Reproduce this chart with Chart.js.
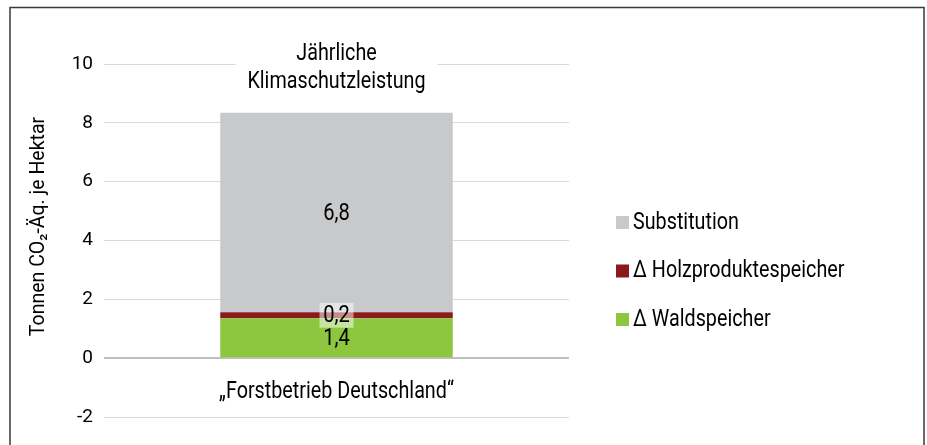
<!DOCTYPE html>
<html>
<head>
<meta charset="utf-8">
<script src="https://cdn.jsdelivr.net/npm/chart.js@4"></script>
<style>
  body { margin: 0; background: #fff; }
</style>
</head>
<body>
<canvas id="chart" width="927" height="445"></canvas>
<script>
const categories = ['\u201EForstbetrieb Deutschland\u201C'];
const waldspeicher = [1.36];
const holzprodukte = [0.2];
const substitution = [6.78];
const seriesNames = ['\u0394 Waldspeicher', '\u0394 Holzproduktespeicher', 'Substitution'];
const seriesColors = ['#8dc63f', '#8b1a1d', '#c8c9cb'];
const yTicks = [-2, 0, 2, 4, 6, 8, 10];
const titleLines = ['Jährliche', 'Klimaschutzleistung'];
const yTitle = 'Tonnen CO\u2082-Äq. je Hektar';

const fontFamily = 'Roboto, sans-serif';
const textFont = '23.5px ' + fontFamily;
const squeeze = 0.84; // the original uses a condensed face

function condensed(ctx, txt, x, y, align) {
  ctx.save();
  ctx.translate(x, y);
  ctx.scale(squeeze, 1);
  ctx.textAlign = align;
  ctx.fillText(txt, 0, 0);
  ctx.restore();
}

// frame round the whole picture
const framePlugin = {
  id: 'frame',
  beforeDraw(chart) {
    const ctx = chart.ctx;
    ctx.save();
    ctx.strokeStyle = '#3a3a3a';
    ctx.lineWidth = 1.5;
    ctx.strokeRect(10, 7.5, 914, 460);
    ctx.restore();
  },
};

// value labels in the middle of each segment
const labelPlugin = {
  id: 'segLabels',
  afterDatasetsDraw(chart) {
    const ctx = chart.ctx;
    ctx.save();
    ctx.font = '24px ' + fontFamily;
    ctx.textBaseline = 'middle';
    chart.data.datasets.forEach((ds, i) => {
      chart.getDatasetMeta(i).data.forEach((bar, j) => {
        const txt = ds.data[j].toFixed(1).replace('.', ',');
        const cy = (bar.y + bar.base) / 2;
        if (Math.abs(bar.base - bar.y) < 20) {
          ctx.fillStyle = 'rgba(255,255,255,0.5)';
          ctx.fillRect(bar.x - 17, cy - 12.5, 34, 25);
        }
        ctx.fillStyle = '#000';
        condensed(ctx, txt, bar.x, cy + 1, 'center');
      });
    });
    ctx.restore();
  },
};

// texts: title inside the plot, category name, y axis title
const textPlugin = {
  id: 'texts',
  afterDraw(chart) {
    const ctx = chart.ctx;
    const area = chart.chartArea;
    const cx = (area.left + area.right) / 2;
    const y10 = chart.scales.y.getPixelForValue(10);
    const y0 = chart.scales.y.getPixelForValue(0);
    ctx.save();
    ctx.fillStyle = '#fff';
    ctx.fillRect(cx - 101, y10 - 24, 202, 50);
    ctx.fillStyle = '#000';
    ctx.font = textFont;
    ctx.textBaseline = 'middle';
    condensed(ctx, titleLines[0], cx, y10 - 10, 'center');
    condensed(ctx, titleLines[1], cx, y10 + 18, 'center');

    chart.scales.x.ticks.forEach((t, i) => {
      condensed(ctx, categories[i], chart.scales.x.getPixelForTick(i), y0 + 34, 'center');
    });

    ctx.font = '19.5px ' + fontFamily;
    ctx.translate(39.5, (area.top + area.bottom) / 2 - 14);
    ctx.rotate(-Math.PI / 2);
    ctx.textAlign = 'center';
    ctx.fillText(yTitle, 0, 0);
    ctx.restore();
  },
};

// legend on the right, top entry is the top segment
const legendPlugin = {
  id: 'sideLegend',
  afterDraw(chart) {
    const ctx = chart.ctx;
    const area = chart.chartArea;
    const x = area.right + 47;
    let y = area.top + 158;
    ctx.save();
    ctx.font = textFont;
    ctx.textBaseline = 'middle';
    const items = chart.data.datasets.slice().reverse();
    items.forEach((ds) => {
      ctx.fillStyle = ds.backgroundColor;
      ctx.fillRect(x, y - 6, 13, 13);
      ctx.fillStyle = '#000';
      condensed(ctx, ds.label, x + 17, y + 1, 'left');
      y += 48.5;
    });
    ctx.restore();
  },
};

new Chart(document.getElementById('chart'), {
  type: 'bar',
  data: {
    labels: categories,
    datasets: [
      { label: seriesNames[0], data: waldspeicher, backgroundColor: seriesColors[0] },
      { label: seriesNames[1], data: holzprodukte, backgroundColor: seriesColors[1] },
      { label: seriesNames[2], data: substitution, backgroundColor: seriesColors[2] },
    ],
  },
  options: {
    responsive: false,
    animation: false,
    layout: { padding: { top: 64, bottom: 28, left: 0, right: 358 } },
    plugins: {
      legend: { display: false },
      tooltip: { enabled: false },
    },
    datasets: {
      bar: { categoryPercentage: 1, barPercentage: 0.5 },
    },
    scales: {
      x: {
        stacked: true,
        position: { y: 0 },
        grid: { display: false },
        border: { display: false },
        ticks: { display: false },
      },
      y: {
        stacked: true,
        min: -2,
        max: 10,
        afterBuildTicks(scale) {
          scale.ticks = yTicks.map((v) => ({ value: v }));
        },
        afterFit(scale) {
          scale.width = 104;
        },
        grid: {
          drawTicks: false,
          color: (c) => (c.tick && c.tick.value === 0 ? '#bfbfbf' : '#d9d9d9'),
          lineWidth: (c) => (c.tick && c.tick.value === 0 ? 2 : 1),
        },
        border: { display: false },
        ticks: { color: '#000', padding: 11, font: { family: fontFamily, size: 19 } },
      },
    },
  },
  plugins: [framePlugin, labelPlugin, textPlugin, legendPlugin],
});
</script>
</body>
</html>
